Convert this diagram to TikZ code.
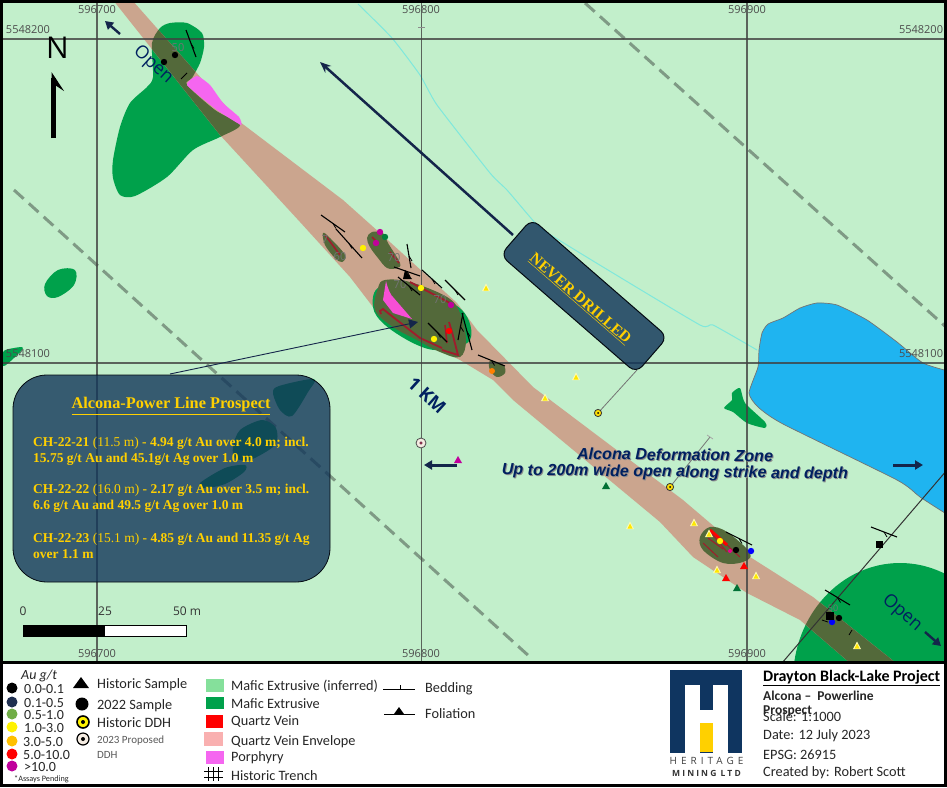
\documentclass[tikz,border=0pt]{standalone}
\usepackage{fontspec}
\setmainfont{Liberation Serif}
\newfontfamily\labf{Open Sans}
\newfontfamily\calib{Carlito}
\newfontfamily\arl{Liberation Sans}
\usetikzlibrary{arrows.meta,calc}
\definecolor{paleg}{HTML}{C2EFCB}
\definecolor{mafic}{HTML}{00A14B}
\definecolor{mafinf}{HTML}{85E09B}
\definecolor{bandc}{HTML}{CBA58E}
\definecolor{oliv}{HTML}{53693A}
\definecolor{lake}{HTML}{1FB4F0}
\definecolor{pinkp}{HTML}{F566F0}
\definecolor{navy}{HTML}{13365A}
\definecolor{darknavy}{HTML}{14254A}
\definecolor{gold}{HTML}{FFD000}
\definecolor{veinc}{HTML}{A01C2C}
\definecolor{dashc}{HTML}{7F9A85}
\definecolor{txtnavy}{HTML}{002060}
\definecolor{streamc}{HTML}{7FE8DC}
\definecolor{leggreen}{HTML}{70AD47}
\definecolor{legorange}{HTML}{FFC000}
\definecolor{legpurple}{HTML}{C0009C}
\definecolor{legnavy}{HTML}{1F2F50}
\newcommand{\bandpath}{(113,0) -- (220,135) -- (300,222) -- (350,277) -- (373,307) -- (420,340) -- (460,360) -- (493,380) -- (513,400) -- (660,522) -- (693,557) -- (747,593) -- (800,620) -- (850,663) -- (896,663) -- (813,597) -- (750,557) -- (683,500) -- (533,387) -- (477,330) -- (457,303) -- (380,233) -- (343,200) -- (240,122) -- (132,0) -- cycle}
\newcommand{\nwmafic}{plot[smooth cycle,tension=.45] coordinates {(152,43) (160,28) (170,23) (187,23) (202,33) (204,47) (200,63) (192,78) (187,85) (215,110) (240,125) (220,137) (193,150) (167,177) (135,196) (120,195) (113,178) (113,160) (120,127) (130,103) (147,87) (153,77)}}
\newcommand{\semafic}{(900,680) ellipse [x radius=107,y radius=117]}
\newcommand{\samp}[3]{\fill[#3] (#1,#2) circle (3.2);}
\newcommand{\tri}[3]{\fill[#3] (#1,#2-4) -- (#1+4,#2+3) -- (#1-4,#2+3) -- cycle;}
\newcommand{\ytri}[2]{\fill[white!70!yellow] (#1,#2-4.5) -- (#1+4,#2+3) -- (#1-4,#2+3) -- cycle;\fill[yellow!90!orange] (#1,#2-2.5) -- (#1+2.5,#2+2.5) -- (#1-2.5,#2+2.5) -- cycle;}
\newcommand{\bed}[4]{\draw[black,line width=1.1pt] (#1,#2) -- (#3,#4); \draw[black,line width=.8pt] ($(#1,#2)!.5!(#3,#4)$) -- ++(3,5);}
\tikzset{
  gridl/.style={draw=black!75,line width=1.2pt,opacity=.8},
  ticklab/.style={font=\labf\fontsize{11}{13}\selectfont,text=black!70,inner sep=0pt},
  dashl/.style={draw=dashc,line width=3pt,dash pattern=on 13pt off 7pt},
  callt/.style={font=\bfseries\fontsize{13.5}{16}\selectfont,text=gold,inner sep=0pt,anchor=west,align=left},
  bluearr/.style={draw=darknavy,line width=3pt,-{Triangle[length=8pt,width=9pt]}},
  leader/.style={draw=black!55,line width=.8pt},
  legt/.style={font=\calib\fontsize{14.3}{16}\selectfont,text=black!85,inner sep=0pt,anchor=west},
  bigt/.style={font=\labf\fontsize{18}{20}\selectfont,text=txtnavy,inner sep=0pt},
  fieldnum/.style={font=\labf\fontsize{11}{13}\selectfont,text=black!55,inner sep=0pt},
  zonet/.style={font=\arl\itshape\bfseries\fontsize{16.1}{16.5}\selectfont,align=center,inner sep=0pt,rotate=-.7},
}
\begin{document}
\begin{tikzpicture}[x=1pt,y=-1pt]
\useasboundingbox (0,0) rectangle (947,787);
\fill[white] (0,0) rectangle (947,787);
\begin{scope}
\clip (3,3) rectangle (944,661);
\fill[paleg] (0,0) rectangle (947,663);
% dashed faults
\draw[dashl] (585,3) -- (946,327);
\draw[dashl] (14,190) -- (530,657);
% mafic bodies
\fill[mafic] \nwmafic;
\fill[mafic] plot[smooth cycle,tension=.6] coordinates {(45,284) (58,270) (75,270) (74,285) (58,297) (47,296)};
\fill[mafic] plot[smooth cycle,tension=.6] coordinates {(3,352) (14,348) (23,348) (14,358) (3,366)};
\fill[mafic] plot[smooth cycle,tension=.5] coordinates {(273,393) (279,386) (314,379) (308,392) (292,416) (280,410)};
\fill[mafic] plot[smooth cycle,tension=.5] coordinates {(233,447) (240,430) (262,420) (276,428) (275,445) (250,460) (235,458)};
\fill[mafic] plot[smooth cycle,tension=.5] coordinates {(200,483) (225,468) (245,465) (244,472) (225,484) (205,488)};
\fill[mafic] plot[smooth cycle,tension=.4] coordinates {(724,408) (732,400) (732,393) (740,388) (745,403) (765,422) (765,428) (747,423) (733,412)};
\fill[mafic] \semafic;
% lake
\filldraw[fill=lake,draw=black!55,line width=.7pt] plot[smooth,tension=.35] coordinates {(948,371) (923,363) (897,342) (867,320) (837,305) (817,303) (800,308) (783,318) (768,324) (762,333) (759,350) (758,367) (749,393) (758,407) (783,424) (897,480) (920,497) (948,515)} -- cycle;
% stream
\draw[draw=streamc,line width=1pt] plot[smooth,tension=.3] coordinates {(358,4) (392,38) (420,75) (437,105) (490,173) (507,190) (530,217) (543,230) (603,267) (700,325) (713,325) (757,350)};
% band
\fill[bandc] \bandpath;
\begin{scope}\clip \nwmafic; \fill[oliv] \bandpath; \end{scope}
\begin{scope}\clip \semafic; \fill[oliv] \bandpath; \end{scope}
% pink NW
\fill[pinkp] plot[smooth cycle,tension=.3] coordinates {(187,85) (197,76) (210,85) (223,103) (239,117) (241,125) (217,110)};
% central bodies
\fill[mafic] plot[smooth cycle,tension=.6] coordinates {(373,307) (380,287) (420,290) (462,310) (470,340) (440,350) (415,344) (385,325)};
\fill[oliv] plot[smooth cycle,tension=.6] coordinates {(378,288) (385,280) (410,282) (447,297) (460,313) (466,340) (460,357) (440,352) (417,340) (393,327) (375,310)};
\fill[oliv] plot[smooth cycle,tension=.6] coordinates {(367,238) (372,232) (383,233) (388,243) (400,263) (397,268) (387,268) (378,258) (370,247)};
\fill[oliv] plot[smooth cycle,tension=.6] coordinates {(323,233) (330,238) (345,255) (342,262) (335,258) (325,245)};
\fill[oliv] plot[smooth cycle,tension=.6] coordinates {(490,361) (503,365) (505,373) (497,377) (490,370)};
\fill[oliv] plot[smooth cycle,tension=.6] coordinates {(700,537) (710,527) (727,532) (750,553) (743,562) (723,563) (703,550)};
\fill[pinkp!40!magenta!60!red!30!pinkp] (386,281) .. controls (388,290) and (392,297) .. (393,297) -- (412,319) -- (393,313) -- (383,300) -- cycle;
% veins
\draw[veinc,line width=1.6pt] (325,235) -- (340,255);
\draw[veinc,line width=1.6pt] (372,237) -- (378,243);
\draw[veinc,line width=1.6pt] (390,252) -- (399,263);
\draw[veinc,line width=1.8pt] (410,282) -- (450,303);
\draw[veinc,line width=1.8pt] (381,314) -- (380,311) -- (383,309) -- (393,317) -- (420,338) -- (442,348);
\draw[veinc,line width=1.8pt] (449,322) -- (452,332) -- (458,355) -- (442,350);
\draw[veinc,line width=1.6pt] (445,325) -- (447,343);
\draw[red,line width=3pt] (710,530) -- (727,545);
\draw[veinc,line width=1pt] (727,545) -- (740,557);
\draw[veinc,line width=1pt] (703,543) -- (718,557);
\draw[veinc,line width=1pt] (708,538) -- (723,549);
\draw[veinc,line width=1pt] (712,534) -- (727,552);
% grid
\draw[gridl] (97,0) -- (97,663);
\draw[gridl] (421.5,0) -- (421.5,663);
\draw[gridl] (747,0) -- (747,663);
\draw[gridl] (0,39) -- (947,39);
\draw[gridl] (0,363) -- (947,363);
% black section line
\draw[black!80,line width=1pt] (782,663) -- (947,470);
\fill[black] (876,541) rectangle (883,548);
% field numbers
\node[fieldnum] (n50) at (178,48) {50};
\node[fieldnum] (n70a) at (400,285) {70};
\node[fieldnum] (n70b) at (440,300) {70};
\node[fieldnum] (n60) at (340,257) {60};
\node[fieldnum] (n70c) at (325,240) {7};
\node[fieldnum] (n70d) at (394,258) {70};
\node[fieldnum,font=\labf\fontsize{9}{11}\selectfont] (n50b) at (833,608) {50};
% bedding
\bed{321}{215}{345}{232}
\bed{336}{229}{362}{258}
\bed{407}{244}{411}{268}
\bed{394}{267}{420}{276}
\bed{422}{270}{442}{288}
\bed{445}{280}{465}{300}
\bed{398}{277}{420}{295}
\bed{428}{323}{447}{342}
\bed{463}{313}{458}{340}
\bed{462}{313}{472}{350}
\bed{478}{355}{505}{366}
\bed{186}{30}{196}{57}
\draw[black,line width=.9pt] (181,79) -- (187,73);
\bed{726}{532}{752}{545}
\bed{871}{527}{897}{537}
\bed{825}{590}{850}{605}
\draw[black,line width=.8pt] (822,620) -- (828,622);
\draw[black,line width=.8pt] (849,635) -- (852,630);
\fill[black] (405,270) -- (412,279) -- (403,279) -- cycle;
% samples
\samp{175}{55}{black}\samp{164}{62}{black}
\samp{380}{232}{legpurple}\samp{376}{243}{legpurple}\samp{385}{237}{mafic!80!black}
\samp{363}{248}{yellow}
\samp{421}{288}{yellow}\samp{451}{305}{legpurple}
\samp{449}{331}{red}\samp{434}{339}{yellow}
\fill[orange] (492,371) circle (3);
\samp{720}{541}{yellow}\samp{736}{550}{black}\samp{751}{551}{blue}
\fill[magenta] (730,551) circle (2);
\samp{839}{618}{black}\samp{832}{622}{blue}
\fill[black] (826,612) rectangle (834,620);
% triangles
\ytri{486}{288}\ytri{576}{377}\ytri{545}{398}\ytri{630}{526}\ytri{694}{523}\ytri{709}{534}\ytri{717}{570}\ytri{756}{576}\ytri{857}{646}
\tri{726}{578}{red}\tri{744}{566}{red}\tri{737}{588}{mafic!70!black}\tri{606}{486}{mafic!70!black}
\tri{458}{460}{legpurple}
% drill holes
\coordinate (dh1) at (598,413); \coordinate (dh1e) at (637,370);
\coordinate (dh2) at (670,487); \coordinate (dh2e) at (710,437);
\draw[leader] (dh1) -- (dh1e);
\draw[leader] (dh2) -- (dh2e);
\draw[draw=black!35,line width=.7pt] (707,435) -- (713,439);
\draw[draw=black!45,line width=.7pt] (418,27) -- (425,27);
\filldraw[fill=yellow!80!orange,draw=black!80,line width=.8pt] (dh1) circle (3.6);
\fill[black] (dh1) circle (1);
\filldraw[fill=yellow!80!orange,draw=black!80,line width=.8pt] (dh2) circle (3.6);
\fill[black] (dh2) circle (1);
\filldraw[fill=white!85!brown,draw=black!70,line width=.8pt] (421,443) circle (5);
\draw[draw=black!70,fill=purple] (421,443) circle (1.4);
% tick labels
\node[ticklab] (t1) at (97,10) {596700};
\node[ticklab] (t2) at (421,10) {596800};
\node[ticklab] (t3) at (747,10) {596900};
\node[ticklab] (t4) at (28,30) {5548200};
\node[ticklab] (t5) at (921,30) {5548200};
\node[ticklab] (t6) at (28,354) {5548100};
\node[ticklab] (t7) at (921,354) {5548100};
\node[ticklab] (t8) at (97,654) {596700};
\node[ticklab] (t9) at (421,654) {596800};
\node[ticklab] (t10) at (747,654) {596900};
% small arrows
\coordinate (a1s) at (120,34); \coordinate (a1e) at (105,21);
\draw[bluearr,line width=2.4pt] (a1s) -- (a1e);
\coordinate (a2s) at (457,465); \coordinate (a2e) at (424,465);
\draw[bluearr] (a2s) -- (a2e);
\coordinate (a3s) at (893,465); \coordinate (a3e) at (923,465);
\draw[bluearr] (a3s) -- (a3e);
\coordinate (a4s) at (925,632); \coordinate (a4e) at (941,646);
\draw[bluearr,line width=2.4pt] (a4s) -- (a4e);
% big texts
\node[bigt,rotate=-42] (o1) at (153,65) {Open};
\node[bigt,rotate=-41] (o3) at (902,613) {Open};
\node[bigt,rotate=-42,font=\labf\bfseries\fontsize{18}{20}\selectfont] (km) at (427,395) {1 KM};
\node[zonet,text=black!45] (adzs) at (676,465.5) {Alcona Deformation Zone\\Up to 200m wide open along strike and depth};
\node[zonet,text=txtnavy] (adz) at (675,464.5) {Alcona Deformation Zone\\Up to 200m wide open along strike and depth};
% north
\node[font=\labf\fontsize{30}{32}\selectfont,text=black,inner sep=0pt] (north) at (57.5,48) {N};
\draw[black,line width=5pt] (53.5,138) -- (53.5,78);
\fill[black] (51.5,72) -- (64,91) -- (55,85) -- (51.5,85) -- cycle;
% never drilled
\coordinate (nd1) at (513,235); \coordinate (nd2) at (320,62);
\draw[draw=darknavy,line width=2.5pt,-{Stealth[length=11pt,width=9pt]}] (nd1) -- (nd2);
\node[rotate=-41,minimum width=180pt,minimum height=48pt,rounded corners=9pt,fill=navy,fill opacity=.82,draw=black!80!navy,line width=1pt,inner sep=0pt] (ndbox) at (584,296) {};
\node[rotate=-41,font=\bfseries\fontsize{15.5}{17}\selectfont,text=gold,inner sep=0pt] (ndt) at (580,299) {\underline{NEVER DRILLED}};
% callout
\coordinate (cl1) at (170,374); \coordinate (cl2) at (418,322);
\draw[draw=darknavy,line width=.9pt,-{Triangle[length=9pt,width=9pt]}] (cl1) -- (cl2);
\node[minimum width=317pt,minimum height=207pt,rounded corners=34pt,fill=navy,fill opacity=.8,draw=black!80!navy,line width=.8pt,inner sep=0pt] (callout) at (171.5,478.5) {};
\node[font=\bfseries\fontsize{16.3}{18}\selectfont,text=gold,inner sep=0pt] (ct) at (171,406) {\underline{Alcona-Power Line Prospect}};
\node[callt] (c1) at (33,451) {CH-22-21 {\mdseries (11.5 m)} - 4.94 g/t Au over 4.0 m; incl.\\15.75 g/t Au and 45.1g/t Ag over 1.0 m};
\node[callt] (c2) at (33,498) {CH-22-22 {\mdseries (16.0 m)} - 2.17 g/t Au over 3.5 m; incl.\\6.6 g/t Au and 49.5 g/t Ag over 1.0 m};
\node[callt] (c3) at (33,546) {CH-22-23 {\mdseries (15.1 m)} - 4.85 g/t Au and 11.35 g/t Ag\\over 1.1 m};
% scale bar
\node[font=\labf\fontsize{12}{14}\selectfont,text=black!80,inner sep=0pt] (s0) at (23,611) {0};
\node[font=\labf\fontsize{12}{14}\selectfont,text=black!80,inner sep=0pt] (s1) at (105,611) {25};
\node[font=\labf\fontsize{12}{14}\selectfont,text=black!80,inner sep=0pt] (s2) at (187,611) {50 m};
\fill[white] (23,625) rectangle (186,636);
\fill[black] (23,625) rectangle (105,636);
\draw[black,line width=1pt] (23,625) rectangle (186,636);
\end{scope}
% legend
\fill[white] (3,664) rectangle (944,784);
\draw[black,line width=3.5pt] (1.7,1.7) rectangle (945.3,785.3);
\draw[black,line width=3pt] (0,662.5) -- (947,662.5);
\node[legt,font=\calib\itshape\fontsize{14}{16}\selectfont] (au) at (21,676) {Au g/t};
\foreach \yy/\lc/\lt/\xx in {688/black/0.0-0.1/24,702/legnavy/0.1-0.5/24,714/leggreen/0.5-1.0/24,727/yellow/1.0-3.0/24,741/legorange/3.0-5.0/23,754/red/5.0-10.0/23,766/legpurple/>10.0/24}{
  \fill[\lc] (12,\yy) circle (5.5);
  \node[legt,font=\calib\fontsize{14}{16}\selectfont] at (\xx,\yy+1) {\lt};
}
\node[font=\calib\fontsize{8.2}{9}\selectfont,text=black!85,inner sep=0pt,anchor=west] (ap) at (14,779) {*Assays Pending};
\fill[black] (81,677) -- (89,688) -- (73,688) -- cycle;
\node[legt] (l1) at (97,685) {Historic Sample};
\fill[black] (82,704) circle (6.5);
\node[legt] (l2) at (97,706) {2022 Sample};
\filldraw[fill=yellow,draw=black,line width=1.6pt] (83,722) circle (6);
\fill[black] (83,722) circle (2);
\node[legt] (l3) at (97,723) {Historic DDH};
\filldraw[fill=white!85!brown,draw=black,line width=1.2pt] (83,739) circle (6);
\fill[black] (83,739) circle (2);
\node[legt,font=\calib\fontsize{11}{12}\selectfont,text=black!65] (l4) at (97,741) {2023 Proposed};
\node[legt,font=\calib\fontsize{11}{12}\selectfont,text=black!65] (l5) at (97,755) {DDH};
\fill[mafinf] (206,679) rectangle (224,692);
\node[legt] (l6) at (231,686) {Mafic Extrusive (inferred)};
\fill[mafic] (206,697) rectangle (224,709);
\node[legt] (l7) at (231,704) {Mafic Extrusive};
\fill[red] (206,715) rectangle (223,728);
\node[legt] (l8) at (231,722) {Quartz Vein};
\fill[red!30!white!95!gray] (204,732) rectangle (223,746);
\node[legt] (l9) at (231,742) {Quartz Vein Envelope};
\fill[pinkp] (206,751) rectangle (224,764);
\node[legt] (l10) at (231,758) {Porphyry};
\draw[black,line width=.9pt] (204,771) -- (223,771) (204,777) -- (223,777) (208,767) -- (208,781) (213,767) -- (213,781) (218,767) -- (218,781);
\node[legt] (l11) at (231,776) {Historic Trench};
\draw[black,line width=1pt] (383,689) -- (415,689) (400,685) -- (400,689);
\node[legt] (l12) at (425,689) {Bedding};
\draw[black,line width=1pt] (384,714) -- (415,714);
\fill[black] (399,707) -- (404,714) -- (394,714) -- cycle;
\node[legt] (l13) at (425,714) {Foliation};
% logo
\definecolor{logon}{HTML}{0F3560}
\fill[logon] (670,670) rectangle (742,753);
\fill[white] (685,685) rectangle (700,753);
\fill[white] (713,685) rectangle (728,753);
\fill[white] (700,710) rectangle (713,723);
\fill[gold] (700,723) rectangle (713,752);
\node[font=\labf\addfontfeature{LetterSpace=40}\fontsize{10}{11}\selectfont,text=black!75,inner sep=0pt] (hm) at (706.5,761) {HERITAGE};
\node[font=\labf\bfseries\addfontfeature{LetterSpace=25}\fontsize{8.5}{10}\selectfont,text=black!80,inner sep=0pt] (ml) at (706.5,773) {MINING LTD};
% title block
\node[legt,font=\calib\bfseries\fontsize{16}{18}\selectfont,text=black] (tb1) at (763,678) {\underline{Drayton Black-Lake Project}};
\node[legt,font=\calib\bfseries\fontsize{13.5}{15}\selectfont] (tb2) at (763,696) {Alcona \textendash\ \ Powerline};
\node[legt,font=\calib\bfseries\fontsize{13.5}{15}\selectfont] (tb3) at (763,711) {Prospect};
\node[legt] (tb4) at (763,717) {Scale: 1:1000};
\node[legt] (tb5) at (763,736) {Date: 12 July 2023};
\node[legt] (tb6) at (763,755) {EPSG: 26915};
\node[legt] (tb7) at (763,773) {Created by: Robert Scott};
\end{tikzpicture}
\end{document}
